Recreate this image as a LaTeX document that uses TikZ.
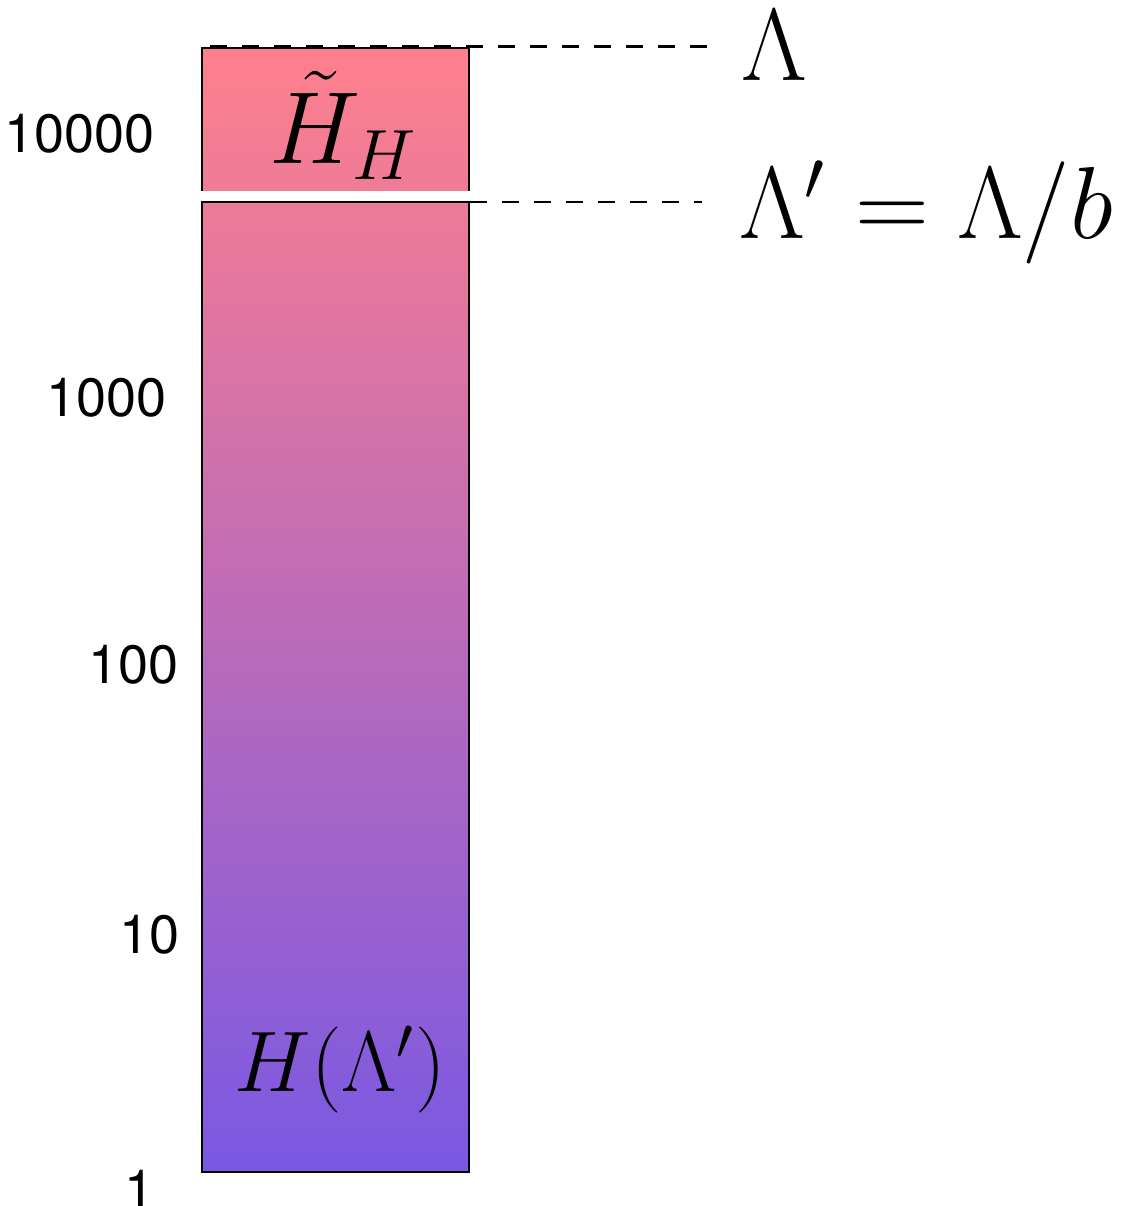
\documentclass[tikz,border=0pt]{standalone}
\usepackage{fontspec}
\newfontfamily\numfont{TeX Gyre Heros}
\definecolor{topc}{RGB}{255,128,140}
\definecolor{midca}{RGB}{238,123,151}
\definecolor{midcb}{RGB}{237,122,152}
\definecolor{botc}{RGB}{122,88,227}
\begin{document}
\begin{tikzpicture}[x=1pt,y=-1pt,
  boxline/.style={line width=2.5pt},
  guide/.style={dash pattern=on 17pt off 15pt, line width=2.5pt},
  guidethin/.style={dash pattern=on 17pt off 15pt, line width=2pt},
  mathlabel/.style={inner sep=0pt, anchor=base west, font=\fontsize{20.74}{25}\selectfont, scale=4.94},
  ticklabel/.style={inner sep=0pt, anchor=base east, font=\numfont\fontsize{54}{60}\selectfont}]
\useasboundingbox (0,0) rectangle (1126,1206);
% boxes
\shade[top color=topc, bottom color=midca] (202,48) rectangle (469,191);
\shade[top color=midcb, bottom color=botc] (202,202) rectangle (469,1172);
\draw[boxline] (202,191) -- (202,48) -- (469,48) -- (469,191);
\draw[boxline] (202,202) rectangle (469,1172);
% guide lines
\coordinate (g1s) at (210,46.5);
\coordinate (g1e) at (710,46.5);
\coordinate (g2s) at (470,202);
\coordinate (g2e) at (702,202);
\draw[guide] (g1s) -- (g1e);
\draw[guidethin] (g2s) -- (g2e);
% labels
\node[mathlabel] (lam) at (740,81) {$\Lambda$};
\node[mathlabel] (lamp) at (738,238) {$\Lambda' = \Lambda/b$};
\node[mathlabel, anchor=base] (hh) at (344,164) {$\tilde H_H$};
\node[mathlabel, scale=0.84] (hl) at (234,1091) {$H(\Lambda')$};
% axis numbers
\node[ticklabel] (t4) at (155,153) {10000};
\node[ticklabel] (t3) at (167,416) {1000};
\node[ticklabel] (t2) at (179,683) {100};
\node[ticklabel] (t1) at (180,953) {10};
\node[ticklabel] (t0) at (155,1208) {1};
\end{tikzpicture}
\end{document}
